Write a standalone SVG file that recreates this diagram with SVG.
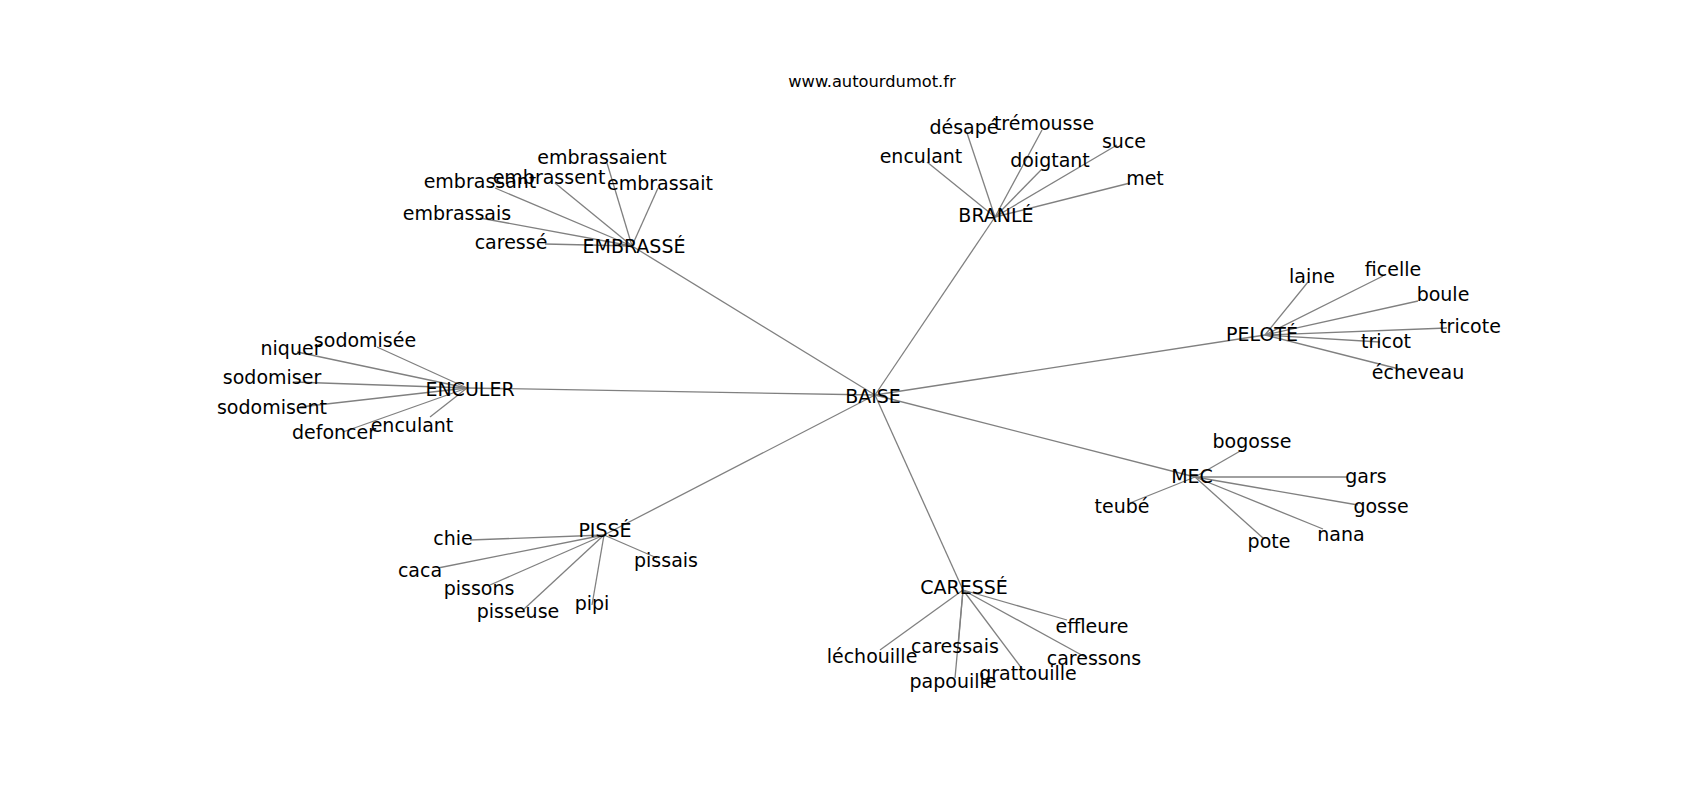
<svg xmlns="http://www.w3.org/2000/svg" width="1700" height="800" viewBox="0 0 1700 800">
<style>
.e line{stroke:#808080;stroke-width:1.3;fill:none}
text{font-family:"DejaVu Sans","Liberation Sans",sans-serif;font-size:19px;fill:#000;text-anchor:middle}
.t{font-size:16.3px}
</style>
<rect width="1700" height="800" fill="#fff"/>
<text class="t" x="872" y="87">www.autourdumot.fr</text>
<g class="e" id="edges">
<line x1="875" y1="395" x2="632" y2="246"/>
<line x1="875" y1="395" x2="995" y2="217"/>
<line x1="875" y1="395" x2="467" y2="388"/>
<line x1="875" y1="395" x2="1265" y2="335"/>
<line x1="875" y1="395" x2="1195" y2="477"/>
<line x1="875" y1="395" x2="963" y2="590"/>
<line x1="875" y1="395" x2="604" y2="535"/>
<line x1="632" y1="246" x2="607" y2="163"/>
<line x1="632" y1="246" x2="555" y2="183"/>
<line x1="632" y1="246" x2="495" y2="188"/>
<line x1="632" y1="246" x2="658" y2="188"/>
<line x1="632" y1="246" x2="480" y2="218"/>
<line x1="632" y1="246" x2="545" y2="244"/>
<line x1="995" y1="217" x2="927" y2="162"/>
<line x1="995" y1="217" x2="967" y2="133"/>
<line x1="995" y1="217" x2="1042" y2="130"/>
<line x1="995" y1="217" x2="1042" y2="169"/>
<line x1="995" y1="217" x2="1117" y2="145"/>
<line x1="995" y1="217" x2="1130" y2="183"/>
<line x1="467" y1="388" x2="377" y2="347"/>
<line x1="467" y1="388" x2="297" y2="352"/>
<line x1="467" y1="388" x2="293" y2="382"/>
<line x1="467" y1="388" x2="300" y2="407"/>
<line x1="467" y1="388" x2="343" y2="432"/>
<line x1="467" y1="388" x2="430" y2="417"/>
<line x1="1265" y1="335" x2="1308" y2="282"/>
<line x1="1265" y1="335" x2="1383" y2="276"/>
<line x1="1265" y1="335" x2="1418" y2="301"/>
<line x1="1265" y1="335" x2="1447" y2="328"/>
<line x1="1265" y1="335" x2="1380" y2="342"/>
<line x1="1265" y1="335" x2="1403" y2="370"/>
<line x1="1195" y1="477" x2="1242" y2="450"/>
<line x1="1195" y1="477" x2="1348" y2="477"/>
<line x1="1195" y1="477" x2="1358" y2="505"/>
<line x1="1195" y1="477" x2="1323" y2="529"/>
<line x1="1195" y1="477" x2="1263" y2="538"/>
<line x1="1195" y1="477" x2="1130" y2="503"/>
<line x1="963" y1="590" x2="880" y2="650"/>
<line x1="963" y1="590" x2="958" y2="648"/>
<line x1="963" y1="590" x2="955" y2="678"/>
<line x1="963" y1="590" x2="1023" y2="670"/>
<line x1="963" y1="590" x2="1067" y2="620"/>
<line x1="963" y1="590" x2="1087" y2="658"/>
<line x1="604" y1="535" x2="470" y2="540"/>
<line x1="604" y1="535" x2="438" y2="568"/>
<line x1="604" y1="535" x2="490" y2="585"/>
<line x1="604" y1="535" x2="523" y2="610"/>
<line x1="604" y1="535" x2="592" y2="605"/>
<line x1="604" y1="535" x2="657" y2="558"/>
</g>
<g id="n-baise"><text x="873" y="403">BAISE</text></g>
<g id="n-embrasse"><text x="634" y="253">EMBRASSÉ</text></g>
<g id="n-embrassaient"><text x="602" y="164">embrassaient</text></g>
<g id="n-embrassent"><text x="549" y="184">embrassent</text></g>
<g id="n-embrassant"><text x="480" y="188">embrassant</text></g>
<g id="n-embrassait"><text x="660" y="190">embrassait</text></g>
<g id="n-embrassais"><text x="457" y="220">embrassais</text></g>
<g id="n-caresse2"><text x="511" y="249">caressé</text></g>
<g id="n-branle"><text x="996" y="222">BRANLÉ</text></g>
<g id="n-enculant1"><text x="921" y="163">enculant</text></g>
<g id="n-desape"><text x="964" y="134">désapé</text></g>
<g id="n-tremousse"><text x="1044" y="130">trémousse</text></g>
<g id="n-doigtant"><text x="1050" y="167">doigtant</text></g>
<g id="n-suce"><text x="1124" y="148">suce</text></g>
<g id="n-met"><text x="1145" y="185">met</text></g>
<g id="n-enculer"><text x="470" y="396">ENCULER</text></g>
<g id="n-sodomisee"><text x="365" y="347">sodomisée</text></g>
<g id="n-niquer"><text x="291" y="355">niquer</text></g>
<g id="n-sodomiser"><text x="272" y="384">sodomiser</text></g>
<g id="n-sodomisent"><text x="272" y="414">sodomisent</text></g>
<g id="n-defoncer"><text x="334" y="439">defoncer</text></g>
<g id="n-enculant2"><text x="412" y="432">enculant</text></g>
<g id="n-pelote"><text x="1262" y="341">PELOTÉ</text></g>
<g id="n-laine"><text x="1312" y="283">laine</text></g>
<g id="n-ficelle"><text x="1393" y="276">ficelle</text></g>
<g id="n-boule"><text x="1443" y="301">boule</text></g>
<g id="n-tricote"><text x="1470" y="333">tricote</text></g>
<g id="n-tricot"><text x="1386" y="348">tricot</text></g>
<g id="n-echeveau"><text x="1418" y="379">écheveau</text></g>
<g id="n-mec"><text x="1192" y="483">MEC</text></g>
<g id="n-bogosse"><text x="1252" y="448">bogosse</text></g>
<g id="n-gars"><text x="1366" y="483">gars</text></g>
<g id="n-gosse"><text x="1381" y="513">gosse</text></g>
<g id="n-nana"><text x="1341" y="541">nana</text></g>
<g id="n-pote"><text x="1269" y="548">pote</text></g>
<g id="n-teube"><text x="1122" y="513">teubé</text></g>
<g id="n-caresse"><text x="964" y="594">CARESSÉ</text></g>
<g id="n-lechouille"><text x="872" y="663">léchouille</text></g>
<g id="n-caressais"><text x="955" y="653">caressais</text></g>
<g id="n-papouille"><text x="953" y="688">papouille</text></g>
<g id="n-grattouille"><text x="1028" y="680">grattouille</text></g>
<g id="n-effleure"><text x="1092" y="633">effleure</text></g>
<g id="n-caressons"><text x="1094" y="665">caressons</text></g>
<g id="n-pisse"><text x="605" y="537">PISSÉ</text></g>
<g id="n-chie"><text x="453" y="545">chie</text></g>
<g id="n-caca"><text x="420" y="577">caca</text></g>
<g id="n-pissons"><text x="479" y="595">pissons</text></g>
<g id="n-pisseuse"><text x="518" y="618">pisseuse</text></g>
<g id="n-pipi"><text x="592" y="610">pipi</text></g>
<g id="n-pissais"><text x="666" y="567">pissais</text></g>
</svg>
